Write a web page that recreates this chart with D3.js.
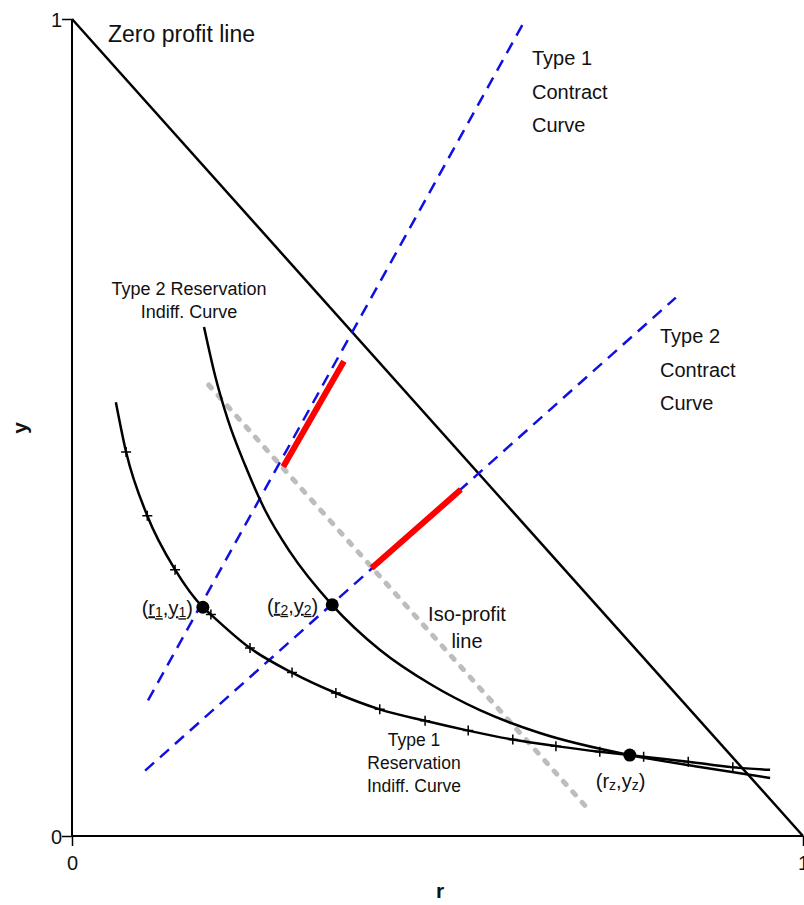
<!DOCTYPE html>
<html>
<head>
<meta charset="utf-8">
<script src="https://cdn.jsdelivr.net/npm/d3@7"></script>
<style>
  body { margin: 0; background: #fff; }
  svg text { font-family: "Liberation Sans", Arial, sans-serif; fill: #111; }
</style>
</head>
<body>
<div class="chart"></div>
<script>
// data (r, y)
const zeroProfit = [[0, 1], [1, 0]];
const contract1 = [[0.104, 0.166], [0.620, 0.999]];
const contract2 = [[0.100, 0.080], [0.826, 0.659]];
const redSeg1 = [[0.289, 0.452], [0.372, 0.581]];
const redSeg2 = [[0.410, 0.328], [0.532, 0.424]];
const isoProfit = [[0.187, 0.552], [0.702, 0.037]];

const type1Curve = [
	[0.060, 0.531], [0.074, 0.470], [0.103, 0.392], [0.141, 0.326], [0.179, 0.280],
	[0.190, 0.271], [0.2435, 0.230], [0.301, 0.200], [0.361, 0.175], [0.421, 0.155],
	[0.483, 0.141], [0.542, 0.129], [0.603, 0.118], [0.662, 0.110], [0.722, 0.103],
	[0.763, 0.099], [0.782, 0.097], [0.843, 0.091], [0.904, 0.084], [0.955, 0.081]
];
const type1Ticks = [
	[0.074, 0.470], [0.103, 0.392], [0.141, 0.326], [0.190, 0.271], [0.2435, 0.230],
	[0.301, 0.200], [0.361, 0.175], [0.421, 0.155], [0.483, 0.141], [0.542, 0.129],
	[0.603, 0.118], [0.662, 0.110], [0.722, 0.103], [0.782, 0.097], [0.843, 0.091],
	[0.904, 0.084]
];
const type2Curve = [
	[0.1806, 0.623], [0.1956, 0.564], [0.2134, 0.509], [0.2367, 0.454], [0.264, 0.399],
	[0.298, 0.348], [0.3557, 0.283], [0.421, 0.228], [0.490, 0.186], [0.558, 0.154],
	[0.640, 0.126], [0.763, 0.099], [0.859, 0.0845], [0.955, 0.071]
];
const points = [
	{ r: 0.179, y: 0.280, sub: "1", under: true },
	{ r: 0.356, y: 0.283, sub: "2", under: true },
	{ r: 0.763, y: 0.099, sub: "z", under: false }
];
const xTicks = [0, 1];
const yTicks = [0, 1];

// label placement for the three points (pixels)
const pointLabelPos = [
	{ dx: -10, dy: 8, anchor: "end" },
	{ dx: -14, dy: 8, anchor: "end" },
	{ dx: -34, dy: 33, anchor: "start" }
];

const width = 804, height = 905;
const x = d3.scaleLinear().domain([0, 1]).range([72, 803]);
const y = d3.scaleLinear().domain([0, 1]).range([836, 19]);

const svg = d3.select(".chart").append("svg")
	.attr("width", width)
	.attr("height", height);

const line = d3.line().x((d) => x(d[0])).y((d) => y(d[1]));
const curve = d3.line().x((d) => x(d[0])).y((d) => y(d[1])).curve(d3.curveMonotoneX);

// axes
const xAxis = d3.axisBottom(x).tickValues(xTicks).tickFormat(d3.format("d")).tickSize(10).tickSizeOuter(0);
const yAxis = d3.axisLeft(y).tickValues(yTicks).tickFormat(d3.format("d")).tickSize(10).tickSizeOuter(0);

svg.append("g").attr("class", "axis x-axis")
	.attr("transform", `translate(0, ${y(0)})`)
	.call(xAxis)
	.call((g) => g.select(".domain").attr("stroke-width", 2).attr("d", `M${x(0)},0H${x(1)}`))
	.call((g) => g.selectAll(".tick line").attr("stroke-width", 1.5))
	.call((g) => g.selectAll(".tick text").attr("font-size", 20).attr("dy", "1.05em").attr("fill", "#111"));

svg.append("g").attr("class", "axis y-axis")
	.attr("transform", `translate(${x(0)}, 0)`)
	.call(yAxis)
	.call((g) => g.select(".domain").attr("stroke-width", 2).attr("d", `M0,${y(0)}V${y(1)}`))
	.call((g) => g.selectAll(".tick line").attr("stroke-width", 1.5))
	.call((g) => g.selectAll(".tick text").attr("font-size", 20).attr("x", -10).attr("dy", "0.35em").attr("fill", "#111"));

svg.append("text")
	.attr("x", 440).attr("y", 898)
	.attr("text-anchor", "middle")
	.attr("font-size", 21).attr("font-weight", "bold")
	.text("r");

svg.append("text")
	.attr("transform", "translate(27, 428) rotate(-90)")
	.attr("text-anchor", "middle")
	.attr("font-size", 21).attr("font-weight", "bold")
	.text("y");

// iso-profit (under everything)
svg.append("path")
	.attr("d", line(isoProfit))
	.attr("fill", "none")
	.attr("stroke", "#bdbdbd")
	.attr("stroke-width", 5)
	.attr("stroke-linecap", "round")
	.attr("stroke-dasharray", "4 10");

// zero profit line
svg.append("path")
	.attr("d", line(zeroProfit))
	.attr("fill", "none")
	.attr("stroke", "#000")
	.attr("stroke-width", 2.5);

// contract curves
[contract1, contract2].forEach((c) => {
	svg.append("path")
		.attr("d", line(c))
		.attr("fill", "none")
		.attr("stroke", "#1010e0")
		.attr("stroke-width", 2.5)
		.attr("stroke-dasharray", "12 8");
});

// reservation curves
[type1Curve, type2Curve].forEach((c) => {
	svg.append("path")
		.attr("d", curve(c))
		.attr("fill", "none")
		.attr("stroke", "#000")
		.attr("stroke-width", 2.5);
});

// tick crosses on type 1 curve
const tk = svg.append("g");
tk.selectAll("path")
	.data(type1Ticks)
	.enter()
	.append("path")
	.attr("d", (d) => `M${x(d[0]) - 5},${y(d[1])}h10M${x(d[0])},${y(d[1]) - 5}v10`)
	.attr("stroke", "#000")
	.attr("stroke-width", 1.5);

// red segments
[redSeg1, redSeg2].forEach((s) => {
	svg.append("path")
		.attr("d", line(s))
		.attr("fill", "none")
		.attr("stroke", "#ff0000")
		.attr("stroke-width", 6);
});

// points
svg.selectAll("circle.pt")
	.data(points)
	.enter()
	.append("circle")
	.attr("class", "pt")
	.attr("cx", (d) => x(d.r))
	.attr("cy", (d) => y(d.y))
	.attr("r", 6.5)
	.attr("fill", "#000");

points.forEach((p, i) => {
	const pos = pointLabelPos[i];
	const t = svg.append("text")
		.attr("font-size", 20)
		.attr("x", x(p.r) + pos.dx)
		.attr("y", y(p.y) + pos.dy)
		.attr("text-anchor", pos.anchor);
	t.append("tspan").text("(");
	t.append("tspan").text("r").attr("text-decoration", p.under ? "underline" : null);
	t.append("tspan").text(p.sub).attr("font-size", 14).attr("dy", 2)
		.attr("text-decoration", p.under ? "underline" : null);
	t.append("tspan").text(",").attr("dy", -2);
	t.append("tspan").text("y").attr("text-decoration", p.under ? "underline" : null);
	t.append("tspan").text(p.sub).attr("font-size", 14).attr("dy", 2)
		.attr("text-decoration", p.under ? "underline" : null);
	t.append("tspan").text(")").attr("dy", -2);
});

// labels
function label(lines, lx, ly, step, size, anchor) {
	const t = svg.append("text")
		.attr("font-size", size)
		.attr("text-anchor", anchor);
	lines.forEach((s, i) => {
		t.append("tspan").attr("x", lx).attr("y", ly + i * step).text(s);
	});
}

label(["Zero profit line"], 108, 42, 0, 23, "start");
label(["Type 1", "Contract", "Curve"], 532, 65, 33.5, 20, "start");
label(["Type 2", "Contract", "Curve"], 660, 343, 33.5, 20, "start");
label(["Type 2 Reservation", "Indiff. Curve"], 189, 295, 22.5, 18, "middle");
label(["Iso-profit", "line"], 467, 621, 26.5, 20, "middle");
label(["Type 1", "Reservation", "Indiff. Curve"], 414, 746, 23, 17.5, "middle");
</script>
</body>
</html>
